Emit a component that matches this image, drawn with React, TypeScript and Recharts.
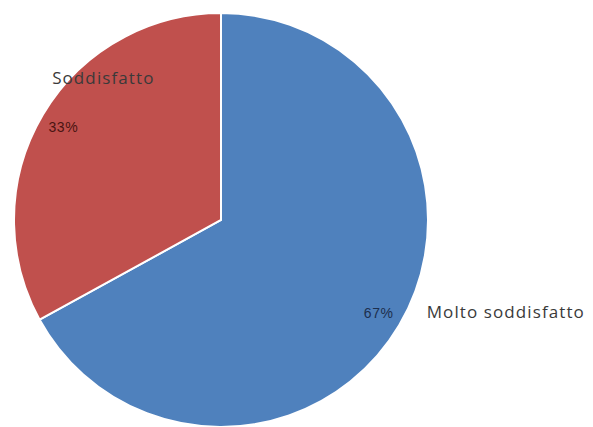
import React from 'react';
import { PieChart, Pie, Cell } from 'recharts';

const categories = ['Molto soddisfatto', 'Soddisfatto'];
const values = [67, 33];
const sliceColors = ['#4F81BD', '#C0504D'];
const pctColors = ['#1d2f4d', '#4a1412'];

const data = categories.map((name, i) => ({ name, value: values[i] }));

const RAD = Math.PI / 180;

const renderLabel = (props: any) => {
  const { cx, cy, midAngle, outerRadius, index, percent, name } = props;
  const r = outerRadius * 0.885;
  const px = cx + r * Math.cos(-midAngle * RAD);
  const py = cy + r * Math.sin(-midAngle * RAD);
  // name placement: blue slice name sits outside to the right, red slice name above its percent
  const nx = index === 0 ? px + 48 : px + 40;
  const ny = index === 0 ? py - 2 : py - 49;
  return (
    <g>
      <text x={px} y={py} fill={pctColors[index]} fontSize={14} letterSpacing={0.6} textAnchor="middle" dominantBaseline="central" fontFamily="'Liberation Sans', Arial, sans-serif">
        {`${Math.round(percent * 100)}%`}
      </text>
      <text x={nx} y={ny} fill="#3a3a3a" fontSize={17} letterSpacing={1.1} textAnchor={index === 0 ? 'start' : 'middle'} dominantBaseline="central" fontFamily="'Open Sans', sans-serif">
        {name}
      </text>
    </g>
  );
};

export default function App() {
  return (
    <div style={{ width: 593, height: 427, background: '#fff' }}>
      <style>{`body{margin:0}`}</style>
      <PieChart width={593} height={427} margin={{ top: 0, right: 0, bottom: 0, left: 0 }}>
        <Pie
          data={data}
          dataKey="value"
          nameKey="name"
          cx={221}
          cy={220}
          outerRadius={207}
          startAngle={90}
          endAngle={-270}
          stroke="#ffffff"
          strokeWidth={2}
          label={renderLabel}
          labelLine={false}
          isAnimationActive={false}
        >
          {data.map((d, i) => (
            <Cell key={d.name} fill={sliceColors[i]} />
          ))}
        </Pie>
      </PieChart>
    </div>
  );
}
